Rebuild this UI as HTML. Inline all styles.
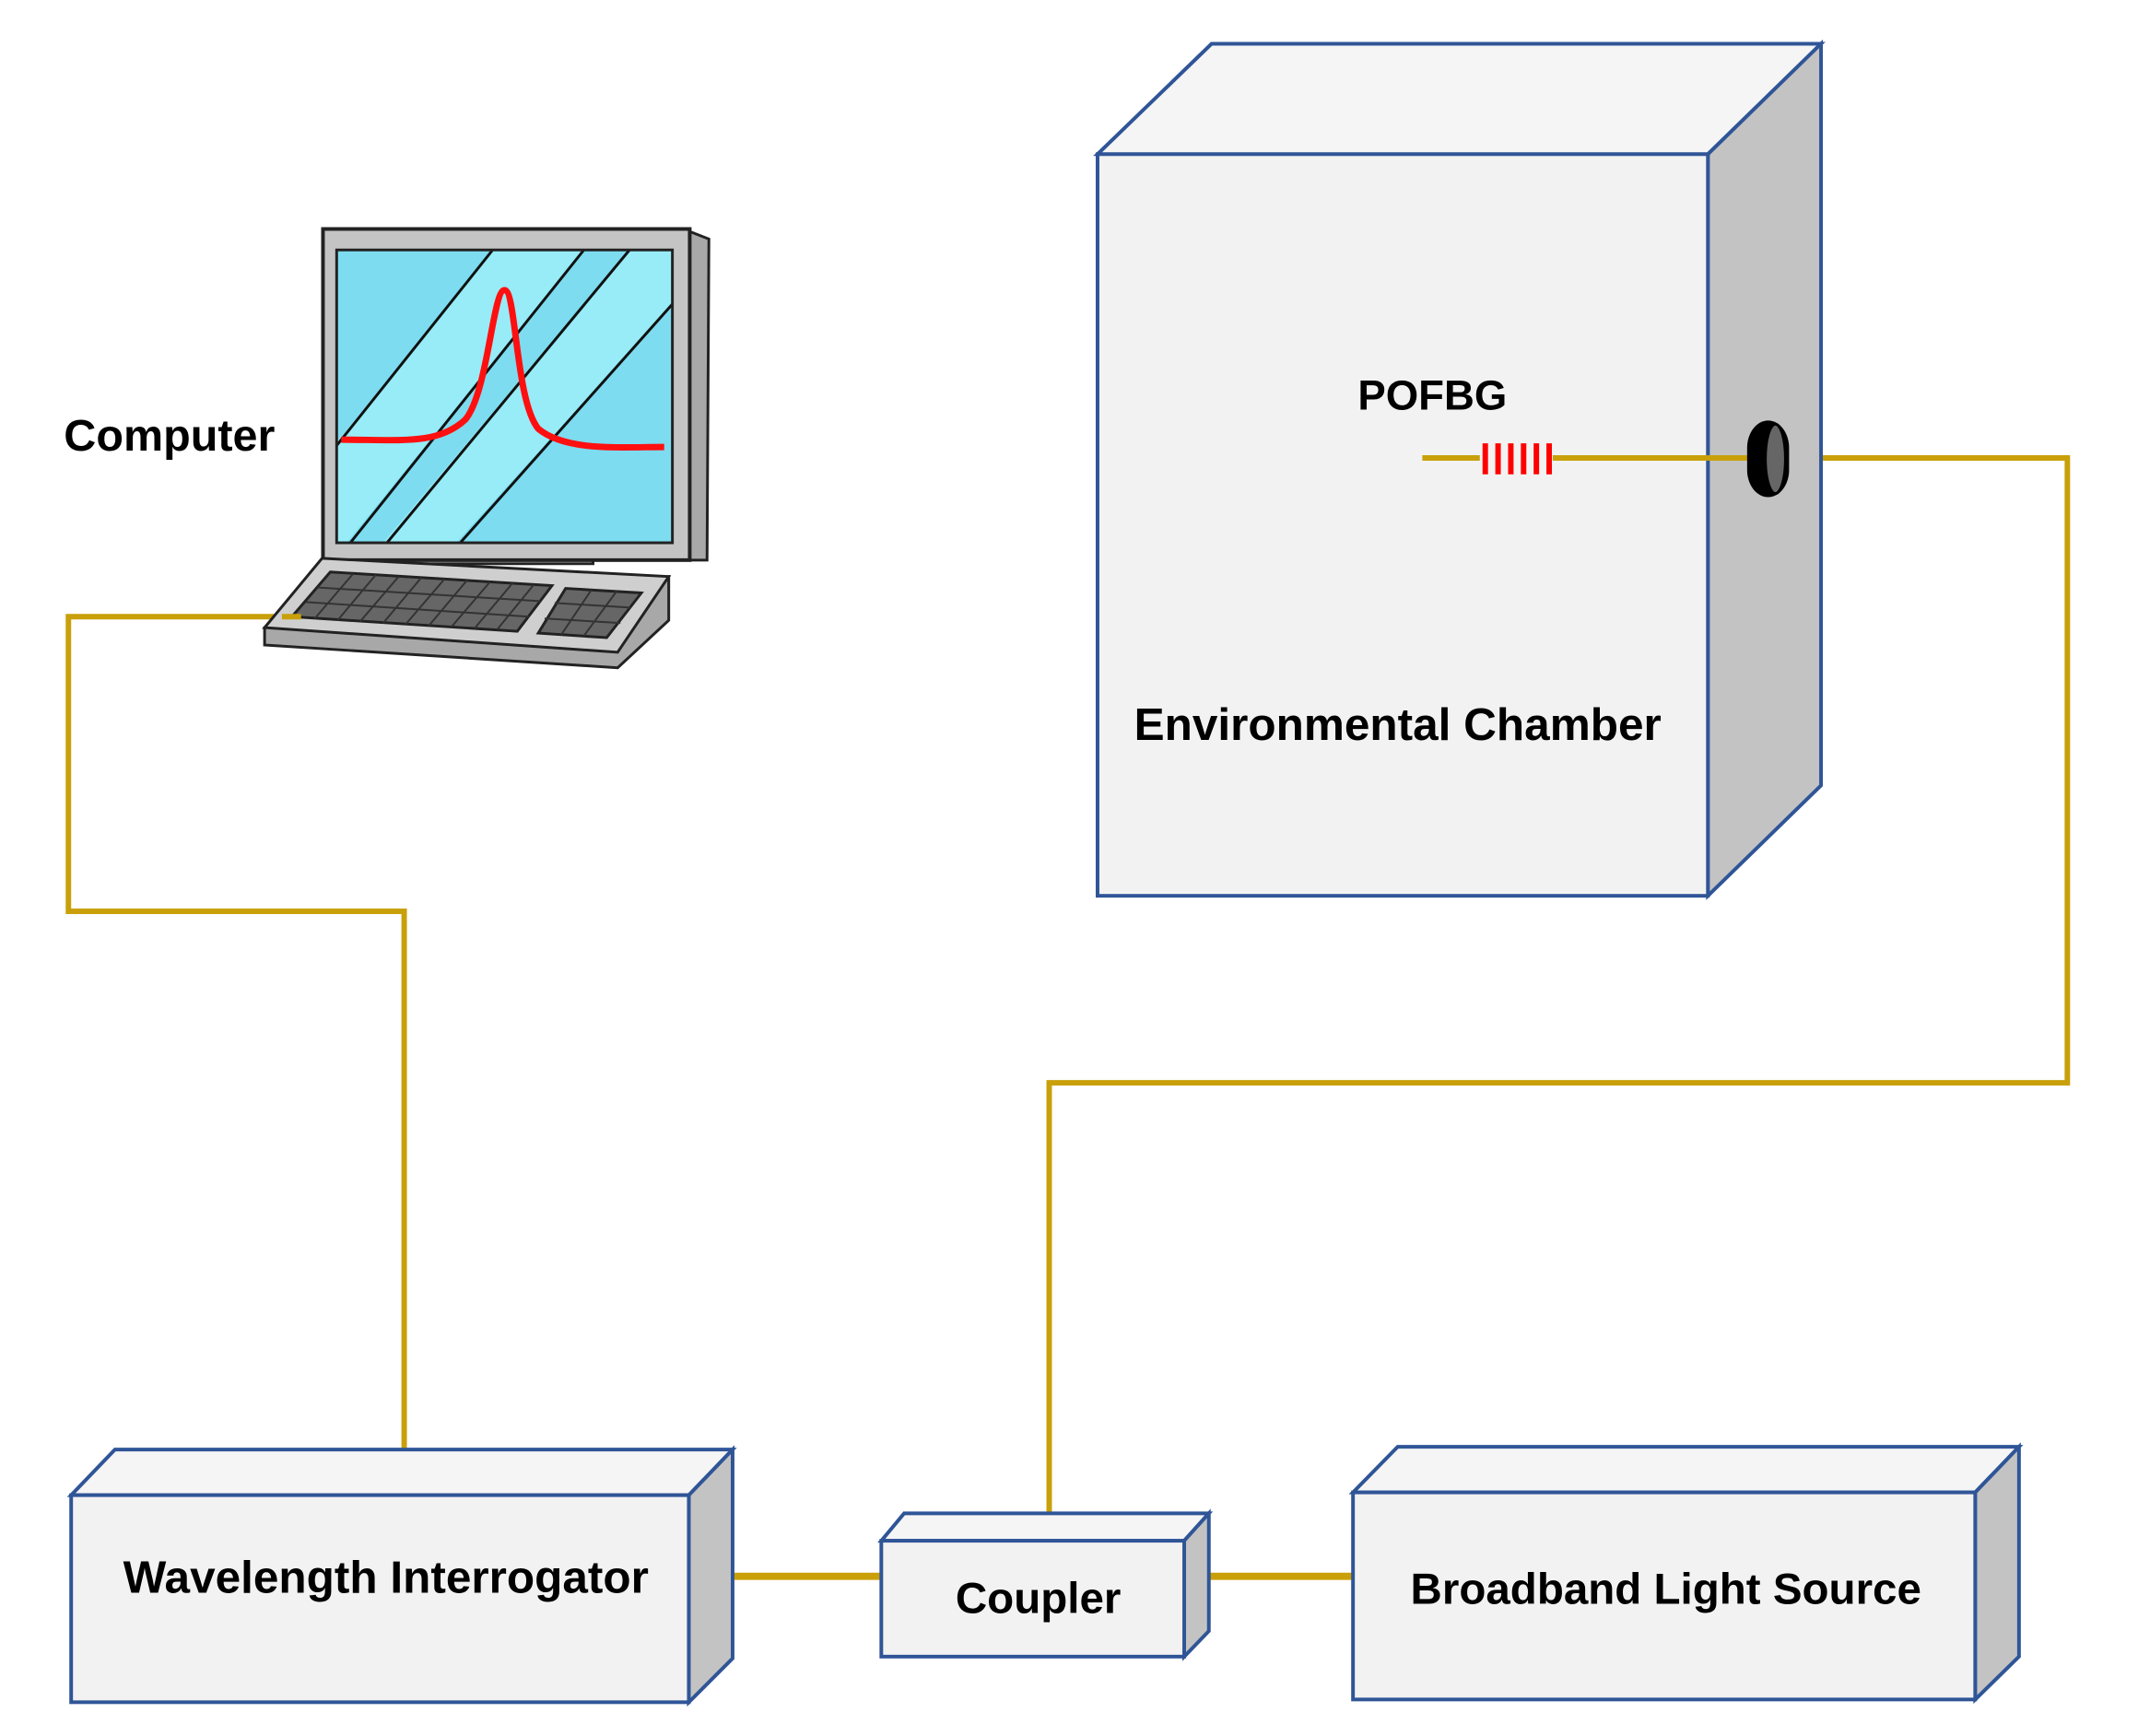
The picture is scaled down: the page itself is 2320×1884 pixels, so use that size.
<!DOCTYPE html>
<html><head><meta charset="utf-8"><style>
html,body{margin:0;padding:0;background:#fff;}
svg{display:block;}
text{font-family:"Liberation Sans",sans-serif;font-weight:bold;fill:#000;}
</style></head><body>
<svg width="2320" height="1884" viewBox="0 0 2320 1884" xmlns="http://www.w3.org/2000/svg">
<defs>
<clipPath id="scr"><rect x="369" y="274" width="368" height="321"/></clipPath>
</defs>
<g transform="scale(0.99)">
<!-- fibers -->
<g fill="none" stroke="#c9a00a" stroke-width="6">
<polyline points="309,676 75,676 75,999 443,999 443,1589"/>
<polyline points="1939,502 2266,502 2266,1187 1150,1187 1150,1659"/>
<line x1="755" y1="1728" x2="966" y2="1728" stroke-width="8"/>
<line x1="1325" y1="1728" x2="1483" y2="1728" stroke-width="8"/>
</g>

<!-- Environmental chamber -->
<g stroke="#2f5597" stroke-width="4" stroke-linejoin="miter">
<polygon points="1203,169 1328,48 1996,48 1872,169" fill="#f5f5f5"/>
<polygon points="1872,169 1996,48 1996,861 1872,982" fill="#c3c3c3"/>
<rect x="1203" y="169" width="669" height="813" fill="#f2f2f2"/>
</g>
<line x1="1559" y1="502" x2="1939" y2="502" stroke="#c9a00a" stroke-width="6"/>
<rect x="1622" y="484" width="80" height="38" fill="#f2f2f2"/>
<g stroke="#ff0000" stroke-width="6">
<line x1="1628" y1="486" x2="1628" y2="520"/><line x1="1642" y1="486" x2="1642" y2="520"/>
<line x1="1656" y1="486" x2="1656" y2="520"/><line x1="1670" y1="486" x2="1670" y2="520"/>
<line x1="1684" y1="486" x2="1684" y2="520"/><line x1="1698" y1="486" x2="1698" y2="520"/>
</g>
<rect x="1915" y="461" width="46" height="84" rx="23" ry="30" fill="#000"/>
<ellipse cx="1946" cy="503" rx="11" ry="38" fill="#666" stroke="#000" stroke-width="3"/>
<text x="1570" y="449" font-size="46" text-anchor="middle">POFBG</text>
<text x="1532" y="811" font-size="50" text-anchor="middle">Environmental Chamber</text>

<!-- Computer -->
<text x="70" y="494" font-size="49">Computer</text>
<polygon points="410,606 650,606 650,618 410,618" fill="#c8c8c8" stroke="#222" stroke-width="3"/>
<polygon points="754,253 777,262 775,614 754,614" fill="#a8a8a8" stroke="#222" stroke-width="3"/>
<rect x="354" y="251" width="402" height="363" fill="#c4c4c4" stroke="#222" stroke-width="4"/>
<g clip-path="url(#scr)">
<rect x="369" y="274" width="368" height="321" fill="#7ddcf0"/>
<polygon points="540,274 640,274 380,595 280,595" fill="#97ecf7"/>
<polygon points="690,274 740,274 740,330 500,595 420,595" fill="#97ecf7"/>
<g stroke="#111" stroke-width="3" fill="none">
<line x1="540" y1="274" x2="280" y2="600"/>
<line x1="640" y1="274" x2="380" y2="600"/>
<line x1="690" y1="274" x2="420" y2="600"/>
<line x1="740" y1="330" x2="500" y2="600"/>
</g>
</g>
<rect x="369" y="274" width="368" height="321" fill="none" stroke="#222" stroke-width="3"/>
<path d="M374,482 C440,482 480,488 510,460 C535,430 540,318 553,318 C566,318 565,440 590,470 C620,495 680,490 728,490" fill="none" stroke="#ff1010" stroke-width="7"/>
<!-- keyboard -->
<polygon points="290,688 290,707 677,732 733,680 733,632" fill="#a8a8a8" stroke="#222" stroke-width="3"/>
<polygon points="353,612 733,632 677,715 290,688" fill="#cfcfcf" stroke="#222" stroke-width="3"/>
<polygon points="362,627 605,642 567,692 320,676" fill="#666" stroke="#222" stroke-width="3"/>
<polygon points="620,645 703,650 665,699 590,694" fill="#666" stroke="#222" stroke-width="3"/>
<g stroke="#333" stroke-width="2">
<line x1="348" y1="644" x2="592" y2="659"/><line x1="335" y1="660" x2="580" y2="676"/>
<line x1="608" y1="661" x2="691" y2="666"/><line x1="597" y1="678" x2="680" y2="683"/>
<line x1="387" y1="629" x2="345" y2="678"/><line x1="412" y1="630" x2="370" y2="680"/>
<line x1="437" y1="632" x2="395" y2="681"/><line x1="462" y1="633" x2="420" y2="683"/>
<line x1="487" y1="635" x2="445" y2="684"/><line x1="512" y1="636" x2="470" y2="686"/>
<line x1="537" y1="638" x2="495" y2="687"/><line x1="562" y1="639" x2="520" y2="689"/>
<line x1="585" y1="641" x2="545" y2="690"/>
<line x1="648" y1="647" x2="615" y2="696"/><line x1="676" y1="648" x2="640" y2="697"/>
</g>
<line x1="309" y1="676" x2="330" y2="676" stroke="#c9a00a" stroke-width="6"/>

<!-- Wavelength Interrogator -->
<g stroke="#2f5597" stroke-width="4">
<polygon points="78,1639 126,1589 803,1589 755,1639" fill="#f5f5f5"/>
<polygon points="755,1639 803,1589 803,1818 755,1866" fill="#c3c3c3"/>
<rect x="78" y="1639" width="677" height="227" fill="#f2f2f2"/>
</g>
<text x="423" y="1746" font-size="50" text-anchor="middle">Wavelength Interrogator</text>

<!-- Coupler -->
<g stroke="#2f5597" stroke-width="4">
<polygon points="966,1689 991,1659 1325,1659 1298,1689" fill="#f5f5f5"/>
<polygon points="1298,1689 1325,1659 1325,1788 1298,1816" fill="#c3c3c3"/>
<rect x="966" y="1689" width="332" height="127" fill="#f2f2f2"/>
</g>
<text x="1138" y="1768" font-size="48" text-anchor="middle">Coupler</text>

<!-- Broadband Light Source -->
<g stroke="#2f5597" stroke-width="4">
<polygon points="1483,1636 1532,1586 2213,1586 2165,1636" fill="#f5f5f5"/>
<polygon points="2165,1636 2213,1586 2213,1816 2165,1863" fill="#c3c3c3"/>
<rect x="1483" y="1636" width="682" height="227" fill="#f2f2f2"/>
</g>
<text x="1826" y="1758" font-size="48" text-anchor="middle">Broadband Light Source</text>
</g>
</svg>
</body></html>
